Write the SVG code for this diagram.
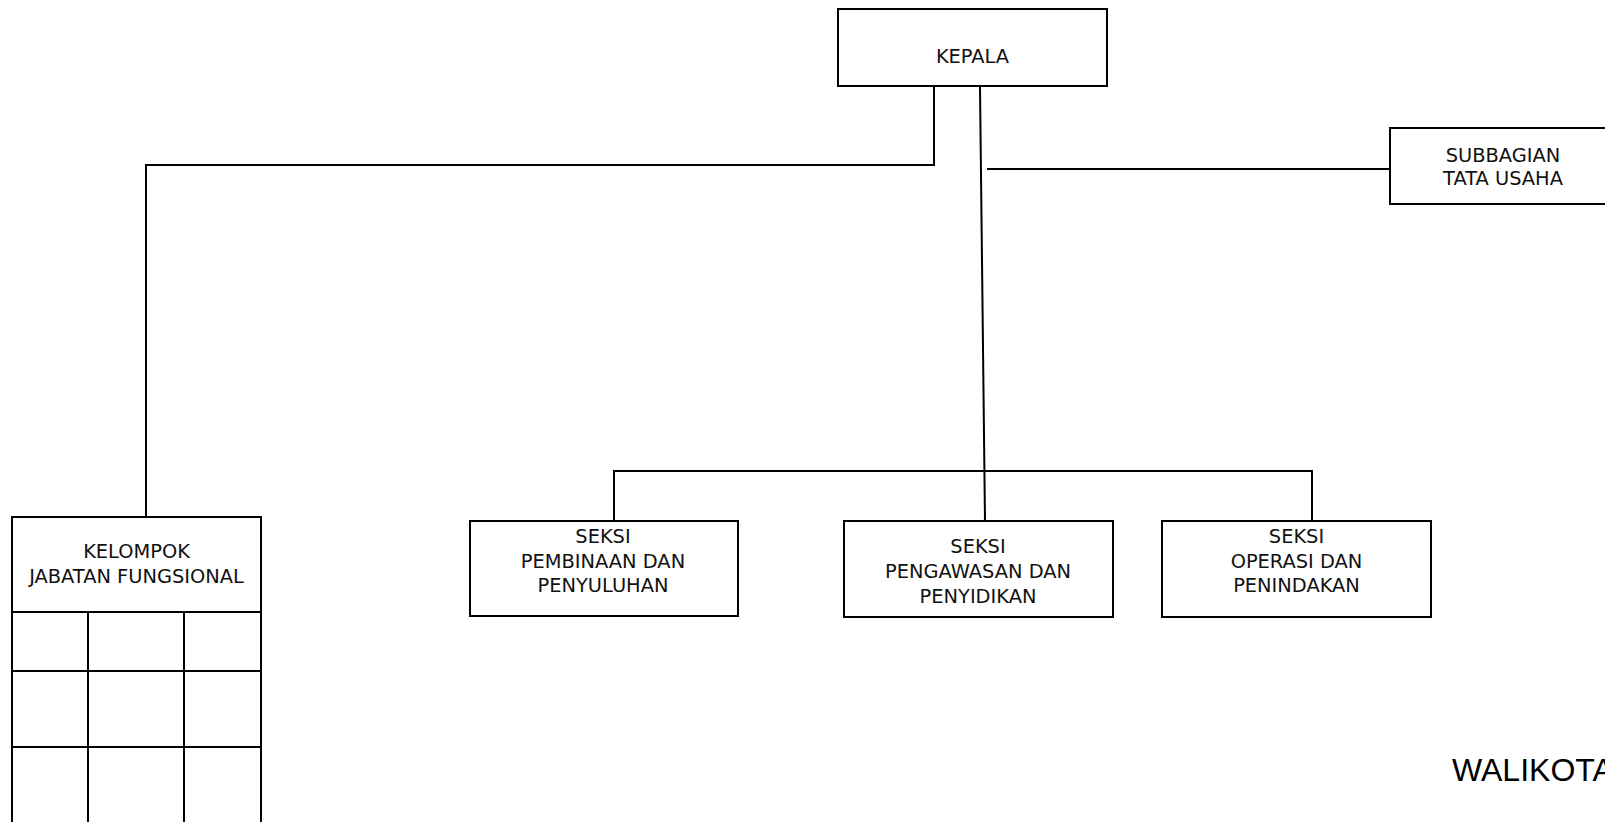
<svg xmlns="http://www.w3.org/2000/svg" width="1605" height="822" viewBox="0 0 1605 822">
<style>
.box{fill:#fff;stroke:#000;stroke-width:2}
.ln{fill:none;stroke:#000;stroke-width:2}
.t{font-family:"DejaVu Sans",Verdana,sans-serif;font-size:19.4px;fill:#111;text-anchor:middle}
.w{font-family:"Liberation Sans",Arial,sans-serif;font-size:32px;fill:#000}
</style>
<rect width="1605" height="822" fill="#fff"/>
<g id="connectors">
<path class="ln" d="M934,86 V165 H146 V517"/>
<line class="ln" x1="980" y1="87" x2="985" y2="521"/>
<line class="ln" x1="987" y1="169" x2="1390" y2="169"/>
<path class="ln" d="M614,521 V471 H1312 V521"/>
</g>
<g id="kepala">
<rect class="box" x="838" y="9" width="269" height="77"/>
<text class="t" x="972.5" y="63">KEPALA</text>
</g>
<g id="subbagian">
<rect class="box" x="1390" y="128" width="230" height="76"/>
<text class="t" x="1503" y="162">SUBBAGIAN</text>
<text class="t" x="1503" y="185">TATA USAHA</text>
</g>
<g id="kelompok">
<rect class="box" x="12" y="517" width="249" height="320"/>
<line class="ln" x1="12" y1="612" x2="261" y2="612"/>
<line class="ln" x1="12" y1="671" x2="261" y2="671"/>
<line class="ln" x1="12" y1="747" x2="261" y2="747"/>
<line class="ln" x1="88" y1="612" x2="88" y2="830"/>
<line class="ln" x1="184" y1="612" x2="184" y2="830"/>
<text class="t" x="136.5" y="558">KELOMPOK</text>
<text class="t" x="136.5" y="583">JABATAN FUNGSIONAL</text>
</g>
<g id="seksi-pembinaan">
<rect class="box" x="470" y="521" width="268" height="95"/>
<text class="t" x="603" y="543">SEKSI</text>
<text class="t" x="603" y="568">PEMBINAAN DAN</text>
<text class="t" x="603" y="592">PENYULUHAN</text>
</g>
<g id="seksi-pengawasan">
<rect class="box" x="844" y="521" width="269" height="96"/>
<text class="t" x="978" y="553">SEKSI</text>
<text class="t" x="978" y="578">PENGAWASAN DAN</text>
<text class="t" x="978" y="603">PENYIDIKAN</text>
</g>
<g id="seksi-operasi">
<rect class="box" x="1162" y="521" width="269" height="96"/>
<text class="t" x="1296.5" y="543">SEKSI</text>
<text class="t" x="1296.5" y="568">OPERASI DAN</text>
<text class="t" x="1296.5" y="592">PENINDAKAN</text>
</g>
<g id="walikota">
<text class="w" x="1452" y="781">WALIKOTA</text>
</g>
</svg>
